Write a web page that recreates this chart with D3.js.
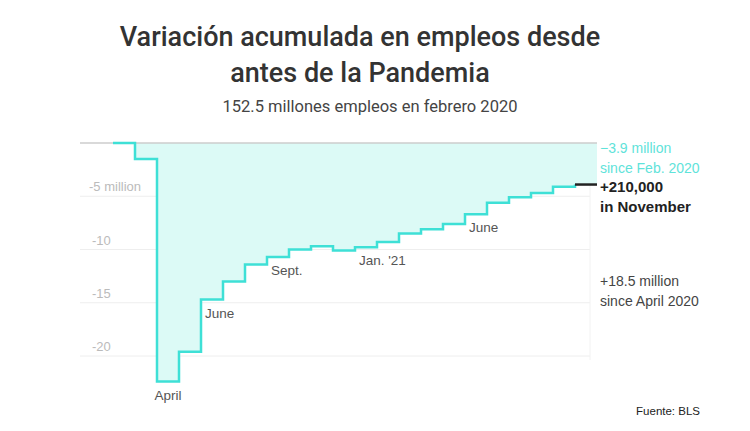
<!DOCTYPE html>
<html><head><meta charset="utf-8">
<script src="https://cdn.jsdelivr.net/npm/d3@7"></script>
<style>body{margin:0;background:#fff;font-family:"Liberation Sans",Arial,sans-serif}</style>
</head><body><svg id="c" width="750" height="431"></svg>
<script>
// monthly cumulative change vs Feb 2020, millions (Feb 2020 .. Nov 2021)
var months = d3.range(0, 22);
var values = [0, -1.5, -22.4, -19.6, -14.7, -13.0, -11.4, -10.7, -10.0, -9.7, -10.1, -9.8,
              -9.3, -8.5, -8.1, -7.6, -6.7, -5.6, -5.1, -4.7, -4.1, -3.9];
var yTicks = [0, -5, -10, -15, -20];
var monthLabels = [[2, "April"], [4, "June"], [7, "Sept."], [11, "Jan. '21"], [16, "June"]];

var svg = d3.select("#c");
var x = d3.scaleLinear().domain([0, 22]).range([113, 597]);
var y = d3.scaleLinear().domain([0, -20]).range([143, 356]);
var teal = "#3ee0d6";

// titles
svg.append("text").attr("x", 360).attr("y", 46).attr("text-anchor", "middle")
  .attr("font-size", 27).attr("font-weight", 500).attr("fill", "#333")
  .attr("font-family", "Roboto").text("Variación acumulada en empleos desde");
svg.append("text").attr("x", 360).attr("y", 82).attr("text-anchor", "middle")
  .attr("font-size", 27).attr("font-weight", 500).attr("fill", "#333")
  .attr("font-family", "Roboto").text("antes de la Pandemia");
svg.append("text").attr("x", 370).attr("y", 112).attr("text-anchor", "middle")
  .attr("font-size", 16.5).attr("fill", "#444").attr("font-family", "Roboto")
  .text("152.5 millones empleos en febrero 2020");

// gridlines
yTicks.forEach(function (t) {
  if (t === 0) return;
  svg.append("line").attr("x1", 80).attr("x2", 590).attr("y1", y(t)).attr("y2", y(t))
    .attr("stroke", "#eee").attr("stroke-width", 1);
  svg.append("text").attr("x", t === -5 ? 89 : 92).attr("y", y(t) - 5)
    .attr("font-size", 13).attr("fill", "#bbb")
    .text(t === -5 ? "-5 million" : t);
});
svg.append("line").attr("x1", 590).attr("x2", 590).attr("y1", 143).attr("y2", 360)
  .attr("stroke", "#f2f2f2");

// step series: values extended to the end of the last month
var pts = months.map(function (m) { return [m, values[m]]; });
pts.push([22, values[21]]);

var area = d3.area().x(function (d) { return x(d[0]); }).y0(y(0))
  .y1(function (d) { return y(d[1]); }).curve(d3.curveStepAfter);
svg.append("path").datum(pts).attr("d", area).attr("fill", "#dcfaf6");

svg.append("line").attr("x1", 80).attr("x2", 597).attr("y1", y(0)).attr("y2", y(0))
  .attr("stroke", "#ccc").attr("stroke-width", 1.5);

var line = d3.line().x(function (d) { return x(d[0]); })
  .y(function (d) { return y(d[1]); }).curve(d3.curveStepAfter);
svg.append("path").datum(pts.slice(0, 22)).attr("d", line)
  .attr("fill", "none").attr("stroke", teal).attr("stroke-width", 2.5);
svg.append("path").datum(pts.slice(21)).attr("d", line)
  .attr("fill", "none").attr("stroke", "#222").attr("stroke-width", 2.5);

// month labels
monthLabels.forEach(function (d) {
  var m = d[0], below = m === 2 ? y(values[m]) + 18 : y(values[m]) + 18;
  svg.append("text").attr("x", x(m) + (m === 2 ? 11 : 4)).attr("y", below)
    .attr("text-anchor", m === 2 ? "middle" : "start")
    .attr("font-size", 13.5).attr("fill", "#555").text(d[1]);
});

// right annotations
function note(lines, y0, color, weight, size) {
  lines.forEach(function (s, i) {
    svg.append("text").attr("x", 600).attr("y", y0 + i * 20).attr("font-size", size)
      .attr("font-weight", weight).attr("fill", color).text(s);
  });
}
note(["\u22123.9 million", "since Feb. 2020"], 153, "#5fe3da", 400, 14);
note(["+210,000", "in November"], 192, "#222", 700, 15);
note(["+18.5 million", "since April 2020"], 286, "#444", 400, 14);

svg.append("text").attr("x", 700).attr("y", 415).attr("text-anchor", "end")
  .attr("font-size", 11.5).attr("fill", "#222").text("Fuente: BLS");
</script></body></html>
